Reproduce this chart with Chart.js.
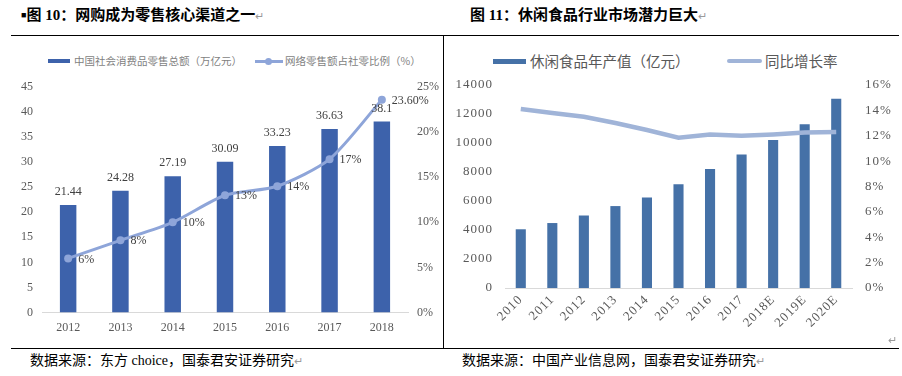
<!DOCTYPE html>
<html>
<head>
<meta charset="utf-8">
<script src="https://cdn.jsdelivr.net/npm/chart.js@4"></script>
<style>
  body { margin: 0; background: #fff; }
  #page { position: relative; width: 902px; height: 376px; overflow: hidden; font-family: "Liberation Serif", "Noto Sans CJK SC", serif; }
  .abs { position: absolute; white-space: nowrap; }
  .title { font-size: 15px; font-weight: bold; color: #000; line-height: 18px; top: 6px; }
  .src { font-size: 14px; color: #000; line-height: 18px; top: 352px; }
  .ret { color: #9a9a9a; font-weight: normal; font-size: 11px; }
  .hline { position: absolute; height: 1px; background: #000; }
  .vline { position: absolute; width: 1px; background: #000; }
  .lg1 { font-family: "Noto Sans CJK SC", sans-serif; font-size: 10.5px; color: #7f7f7f; line-height: 14px; top: 54px; }
  .lg2 { font-family: "Noto Sans CJK SC", sans-serif; font-size: 14.5px; color: #595959; line-height: 20px; top: 51px; }
  canvas { position: absolute; }
</style>
</head>
<body>
<div id="page">
  <div class="abs title" style="left:21px;"><span style="font-size:9px; vertical-align:2px;">■</span>图 10：网购成为零售核心渠道之一<span class="ret">↵</span></div>
  <div class="abs title" style="left:470px;">图 11：休闲食品行业市场潜力巨大<span class="ret">↵</span></div>
  <div class="hline" style="left:11px; width:888px; top:35px;"></div>
  <div class="vline" style="left:443px; top:35px; height:313px;"></div>
  <div class="hline" style="left:11px; width:888px; top:348px;"></div>

  <div class="abs" style="left:48px; top:59px; width:22px; height:4px; background:#3d62ab;"></div>
  <div class="abs lg1" style="left:74px;">中国社会消费品零售总额（万亿元）</div>
  <div class="abs" style="left:255px; top:60px; width:28px; height:2.5px; background:#8ea5d9;"></div>
  <div class="abs" style="left:265px; top:58px; width:7px; height:7px; border-radius:50%; background:#8ea5d9;"></div>
  <div class="abs lg1" style="left:285px;">网络零售额占社零比例（%）</div>

  <div class="abs" style="left:493px; top:59px; width:33px; height:5px; background:#4571a7;"></div>
  <div class="abs lg2" style="left:530px;">休闲食品年产值（亿元）</div>
  <div class="abs" style="left:727px; top:59px; width:35px; height:4px; background:#a0b4d8; border-radius:2px;"></div>
  <div class="abs lg2" style="left:765px;">同比增长率</div>

  <canvas id="leftChart" width="442" height="272" style="left:0; top:75px;"></canvas>
  <canvas id="rightChart" width="448" height="272" style="left:450px; top:75px;"></canvas>

  <div class="abs ret" style="left:888px; top:334px;">↵</div>
  <div class="abs src" style="left:30px;">数据来源：东方 choice，国泰君安证券研究<span class="ret">↵</span></div>
  <div class="abs src" style="left:462px;">数据来源：中国产业信息网，国泰君安证券研究<span class="ret">↵</span></div>
</div>

<script>
// 图10 data
const retailYears = ["2012", "2013", "2014", "2015", "2016", "2017", "2018"];
const retailTotal = [21.44, 24.28, 27.19, 30.09, 33.23, 36.63, 38.1];
const onlineShare = [6, 8, 10, 13, 14, 17, 23.6];
const onlineShareLabels = ["6%", "8%", "10%", "13%", "14%", "17%", "23.60%"];

// 图11 data
const snackYears = ["2010", "2011", "2012", "2013", "2014", "2015", "2016", "2017", "2018E", "2019E", "2020E"];
const snackOutput = [4050, 4480, 5000, 5650, 6250, 7150, 8200, 9200, 10200, 11300, 13050];
const snackGrowth = [14.1, 13.8, 13.5, 13.0, 12.45, 11.85, 12.1, 12.0, 12.1, 12.25, 12.3];

const serif = "'Liberation Serif', 'Times New Roman', serif";

// pin axis boxes so the plot area lands where the picture has it
function fixWidth(w) {
  return function (scale) { scale.width = w; scale.paddingTop = 0; scale.paddingBottom = 0; };
}
function fixHeight(h) {
  return function (scale) { scale.height = h; scale.paddingLeft = 0; scale.paddingRight = 0; };
}

const retailLabels = {
  id: "retailLabels",
  afterDatasetsDraw(chart) {
    const ctx = chart.ctx;
    ctx.save();
    ctx.font = "12px " + serif;
    ctx.fillStyle = "#404040";
    ctx.textBaseline = "middle";
    ctx.textAlign = "center";
    chart.getDatasetMeta(1).data.forEach(function (bar, i) {
      ctx.fillText(String(retailTotal[i]), bar.x, bar.y - 13);
    });
    ctx.textAlign = "left";
    chart.getDatasetMeta(0).data.forEach(function (pt, i) {
      ctx.fillText(onlineShareLabels[i], pt.x + 10, pt.y + 1);
    });
    ctx.restore();
  }
};

new Chart(document.getElementById("leftChart").getContext("2d"), {
  data: {
    labels: retailYears,
    datasets: [{
      type: "line",
      data: onlineShare,
      yAxisID: "y1",
      order: 0,
      borderColor: "#8ea5d9",
      backgroundColor: "#8ea5d9",
      borderWidth: 3,
      pointRadius: 4,
      pointBorderWidth: 0,
      tension: 0.25
    }, {
      type: "bar",
      data: retailTotal,
      yAxisID: "y",
      order: 1,
      backgroundColor: "#3d62ab",
      categoryPercentage: 1,
      barPercentage: 0.315
    }]
  },
  options: {
    responsive: false,
    animation: false,
    layout: { padding: { top: 12, bottom: 0, left: 0, right: 0 } },
    plugins: { legend: { display: false }, tooltip: { enabled: false } },
    scales: {
      x: {
        grid: { display: false, drawTicks: false },
        border: { color: "#d9d9d9" },
        ticks: { color: "#595959", font: { family: serif, size: 12 }, padding: 8, maxRotation: 0 },
        afterFit: fixHeight(34.5)
      },
      y: {
        position: "left",
        min: 0, max: 45,
        grid: { display: false, drawTicks: false },
        border: { display: false },
        ticks: { stepSize: 5, color: "#595959", font: { family: serif, size: 12 }, padding: 9 },
        afterFit: fixWidth(42)
      },
      y1: {
        position: "right",
        min: 0, max: 25,
        grid: { display: false, drawTicks: false },
        border: { display: false },
        ticks: { stepSize: 5, color: "#595959", font: { family: serif, size: 12 }, padding: 9,
          callback: function (v) { return v + "%"; } },
        afterFit: fixWidth(34)
      }
    }
  },
  plugins: [retailLabels]
});

// wider digit spacing as in the source image
const spacedText = {
  id: "spacedText",
  beforeUpdate(chart) { chart.ctx.letterSpacing = "1px"; },
  beforeDraw(chart) { chart.ctx.letterSpacing = "1px"; }
};

new Chart(document.getElementById("rightChart").getContext("2d"), {
  data: {
    labels: snackYears,
    datasets: [{
      type: "line",
      data: snackGrowth,
      yAxisID: "y1",
      order: 0,
      borderColor: "#a0b4d8",
      borderWidth: 4.5,
      pointRadius: 0,
      tension: 0
    }, {
      type: "bar",
      data: snackOutput,
      yAxisID: "y",
      order: 1,
      backgroundColor: "#4571a7",
      categoryPercentage: 1,
      barPercentage: 0.32
    }]
  },
  options: {
    responsive: false,
    animation: false,
    layout: { padding: { top: 10, bottom: 0, left: 0, right: 0 } },
    plugins: { legend: { display: false }, tooltip: { enabled: false } },
    scales: {
      x: {
        grid: { display: false, drawTicks: false },
        border: { color: "#d9d9d9" },
        ticks: { color: "#595959", font: { family: serif, size: 13 }, padding: 4, minRotation: 45, maxRotation: 45 },
        afterFit: fixHeight(59)
      },
      y: {
        position: "left",
        min: 0, max: 14000,
        grid: { display: false, drawTicks: false },
        border: { display: false },
        ticks: { stepSize: 2000, color: "#595959", font: { family: serif, size: 13 }, padding: 12,
          callback: function (v) { return String(v); } },
        afterFit: fixWidth(55)
      },
      y1: {
        position: "right",
        min: 0, max: 16,
        grid: { display: false, drawTicks: false },
        border: { display: false },
        ticks: { stepSize: 2, color: "#595959", font: { family: serif, size: 13 }, padding: 13,
          callback: function (v) { return v + "%"; } },
        afterFit: fixWidth(46)
      }
    }
  },
  plugins: [spacedText]
});
</script>
</body>
</html>
